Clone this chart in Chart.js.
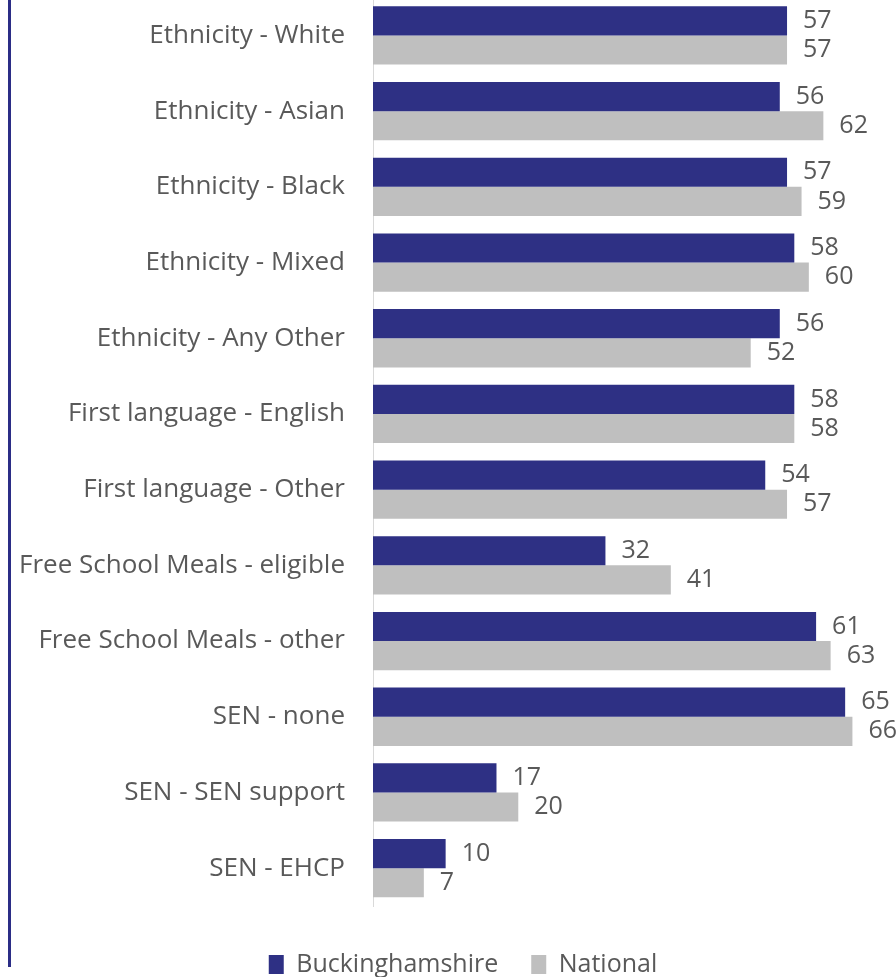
<!DOCTYPE html>
<html>
<head>
<meta charset="utf-8">
<script src="https://cdn.jsdelivr.net/npm/chart.js@4.4.1/dist/chart.umd.min.js"></script>
<style>
  html, body { margin: 0; padding: 0; background: #fff; overflow: hidden; }
  #frame { position: absolute; left: 8px; top: 0; width: 3px; height: 967px; background: #2b2d86; }
  #wrap { position: absolute; left: 0; top: -46px; width: 896px; height: 1035px; }
</style>
</head>
<body>
<div id="frame"></div>
<div id="wrap"><canvas id="chart"></canvas></div>
<script>
'use strict';

const categories = [
    "Ethnicity - White",
    "Ethnicity - Asian",
    "Ethnicity - Black",
    "Ethnicity - Mixed",
    "Ethnicity - Any Other",
    "First language - English",
    "First language - Other",
    "Free School Meals - eligible",
    "Free School Meals - other",
    "SEN - none",
    "SEN - SEN support",
    "SEN - EHCP"
];
const buckinghamshire = [57, 56, 57, 58, 56, 58, 54, 32, 61, 65, 17, 10];
const national = [57, 62, 59, 60, 52, 58, 57, 41, 63, 66, 20, 7];

const FONT = "'Open Sans', sans-serif";
const TEXT = "#595959";

// etiquetas de valor al final de cada barra
const valueLabels = {
    id: 'valueLabels',
    afterDatasetsDraw(chart) {
        const ctx = chart.ctx;
        ctx.save();
        ctx.font = "25px " + FONT;
        ctx.fillStyle = TEXT;
        ctx.textBaseline = 'middle';
        chart.data.datasets.forEach((ds, i) => {
            chart.getDatasetMeta(i).data.forEach((bar, j) => {
                ctx.fillText(ds.data[j], bar.x + 16, bar.y);
            });
        });
        ctx.restore();
    }
};

// mover un poco la leyenda a la derecha, como en el original
const legendShift = {
    id: 'legendShift',
    afterLayout(chart) {
        chart.legend.left += 15;
        chart.legend.right += 15;
    }
};

new Chart(document.getElementById('chart'), {
    type: 'bar',
    data: {
        labels: categories,
        datasets: [
            {
                label: 'Buckinghamshire',
                data: buckinghamshire,
                backgroundColor: '#2e3084',
                barPercentage: 1,
                categoryPercentage: 0.77
            },
            {
                label: 'National',
                data: national,
                backgroundColor: '#bfbfbf',
                barPercentage: 1,
                categoryPercentage: 0.77
            }
        ]
    },
    options: {
        indexAxis: 'y',
        responsive: true,
        maintainAspectRatio: false,
        animation: false,
        layout: { padding: { left: 0, right: 0, top: 0, bottom: 2 } },
        plugins: {
            tooltip: { enabled: false },
            legend: {
                position: 'bottom',
                labels: {
                    font: { family: FONT, size: 25 },
                    color: TEXT,
                    boxWidth: 15,
                    boxHeight: 19,
                    padding: 33
                }
            }
        },
        scales: {
            x: {
                min: 0,
                max: 72,
                afterFit(scale) { scale.height = 13; },
                grid: { display: false, drawTicks: false },
                border: { display: false },
                ticks: { display: false }
            },
            y: {
                afterFit(scale) { scale.width = 373; },
                grid: { display: false, drawTicks: false },
                border: { color: '#d9d9d9', width: 1 },
                ticks: {
                    font: { family: FONT, size: 26 },
                    color: TEXT,
                    padding: 28
                }
            }
        }
    },
    plugins: [valueLabels, legendShift]
});
</script>
</body>
</html>
